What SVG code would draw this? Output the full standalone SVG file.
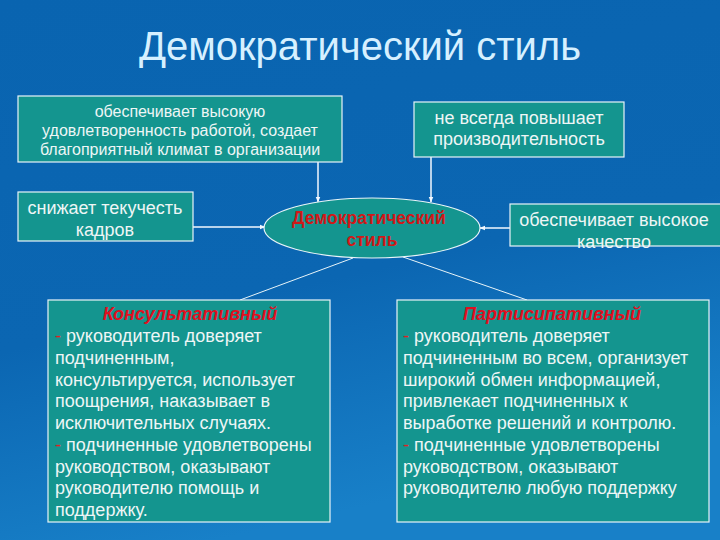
<svg xmlns="http://www.w3.org/2000/svg" width="720" height="540" viewBox="0 0 720 540">
<defs>
<linearGradient id="bg" x1="0" y1="0" x2="0.3" y2="1">
<stop offset="0" stop-color="#0964B0"/>
<stop offset="0.6" stop-color="#0B66B2"/>
<stop offset="1" stop-color="#1880C8"/>
</linearGradient>
<marker id="ah" viewBox="0 0 10 10" refX="9" refY="5" markerWidth="4" markerHeight="4" orient="auto">
<path d="M0,1 L10,5 L0,9 Z" fill="#F2F8FF"/>
</marker>
<style>
.box{fill:#14958F;stroke:#E8F4F8;stroke-width:1.2}
.t{font-family:"Liberation Sans",Arial,sans-serif;fill:#EEF6F6}
.c{text-anchor:middle}
.red{fill:#D01818;font-weight:bold}
.ttl{fill:#E00F1F;font-weight:bold;font-style:italic}
.con{stroke:#F2F8FF;stroke-width:1.5;fill:none}
.thin{stroke:#E8F4F8;stroke-width:1;fill:none}
</style>
</defs>
<rect width="720" height="540" fill="url(#bg)"/>
<text x="360" y="60" class="t c" font-size="40" style="fill:#D6F0FF">Демократический стиль</text>

<g id="connectors">
<line class="con" x1="318" y1="162" x2="318" y2="202" marker-end="url(#ah)"/>
<line class="con" x1="431" y1="157" x2="431" y2="202" marker-end="url(#ah)"/>
<line class="con" x1="193" y1="227" x2="265" y2="227" marker-end="url(#ah)"/>
<line class="con" x1="510" y1="228" x2="480" y2="228" marker-end="url(#ah)"/>
<line class="thin" x1="353" y1="258" x2="240" y2="300"/>
<line class="thin" x1="403" y1="257" x2="527" y2="300"/>
</g>

<g id="box-satisfaction">
<rect class="box" x="18" y="96" width="324" height="66"/>
<text class="t c" font-size="16"><tspan x="180" y="117">обеспечивает высокую</tspan><tspan x="180" y="136">удовлетворенность работой, создает</tspan><tspan x="180" y="155">благоприятный климат в организации</tspan></text>
</g>

<g id="box-productivity">
<rect class="box" x="414" y="102" width="210" height="55"/>
<text class="t c" font-size="18"><tspan x="519" y="124">не всегда повышает</tspan><tspan x="519" y="145">производительность</tspan></text>
</g>

<g id="box-turnover">
<rect class="box" x="18" y="192" width="175" height="49"/>
<text class="t c" font-size="18"><tspan x="105" y="214">снижает текучесть</tspan><tspan x="105" y="236">кадров</tspan></text>
</g>

<g id="box-quality">
<rect class="box" x="510" y="204" width="215" height="42"/>
<text class="t c" font-size="18"><tspan x="614" y="226">обеспечивает высокое</tspan><tspan x="614" y="248">качество</tspan></text>
</g>

<g id="center">
<ellipse cx="372" cy="228" rx="108" ry="30" fill="#14958F" stroke="#E8F4F8" stroke-width="1.2"/>
<text class="t c red" font-size="17.5"><tspan x="369" y="224">Демократический</tspan><tspan x="372" y="246">стиль</tspan></text>
</g>

<g id="box-consultative">
<rect class="box" x="48" y="300" width="282" height="222"/>
<text class="t ttl c" font-size="18" x="190" y="320">Консультативный</text>
<text class="t" font-size="18"><tspan x="55" y="342"><tspan style="fill:#E02020">- </tspan>руководитель доверяет</tspan><tspan x="55" y="363.75">подчиненным,</tspan><tspan x="55" y="385.5">консультируется, использует</tspan><tspan x="55" y="407.25">поощрения, наказывает в</tspan><tspan x="55" y="429">исключительных случаях.</tspan><tspan x="55" y="450.75"><tspan style="fill:#E02020">- </tspan>подчиненные удовлетворены</tspan><tspan x="55" y="472.5">руководством, оказывают</tspan><tspan x="55" y="494.25">руководителю помощь и</tspan><tspan x="55" y="516">поддержку.</tspan></text>
</g>

<g id="box-participative">
<rect class="box" x="397" y="300" width="312" height="222"/>
<text class="t ttl c" font-size="18" x="552" y="320">Партисипативный</text>
<text class="t" font-size="18"><tspan x="403" y="342"><tspan style="fill:#E02020">- </tspan>руководитель доверяет</tspan><tspan x="403" y="363.75">подчиненным во всем, организует</tspan><tspan x="403" y="385.5">широкий обмен информацией,</tspan><tspan x="403" y="407.25">привлекает подчиненных к</tspan><tspan x="403" y="429">выработке решений и контролю.</tspan><tspan x="403" y="450.75"><tspan style="fill:#E02020">- </tspan>подчиненные удовлетворены</tspan><tspan x="403" y="472.5">руководством, оказывают</tspan><tspan x="403" y="494.25">руководителю любую поддержку</tspan></text>
</g>
</svg>
